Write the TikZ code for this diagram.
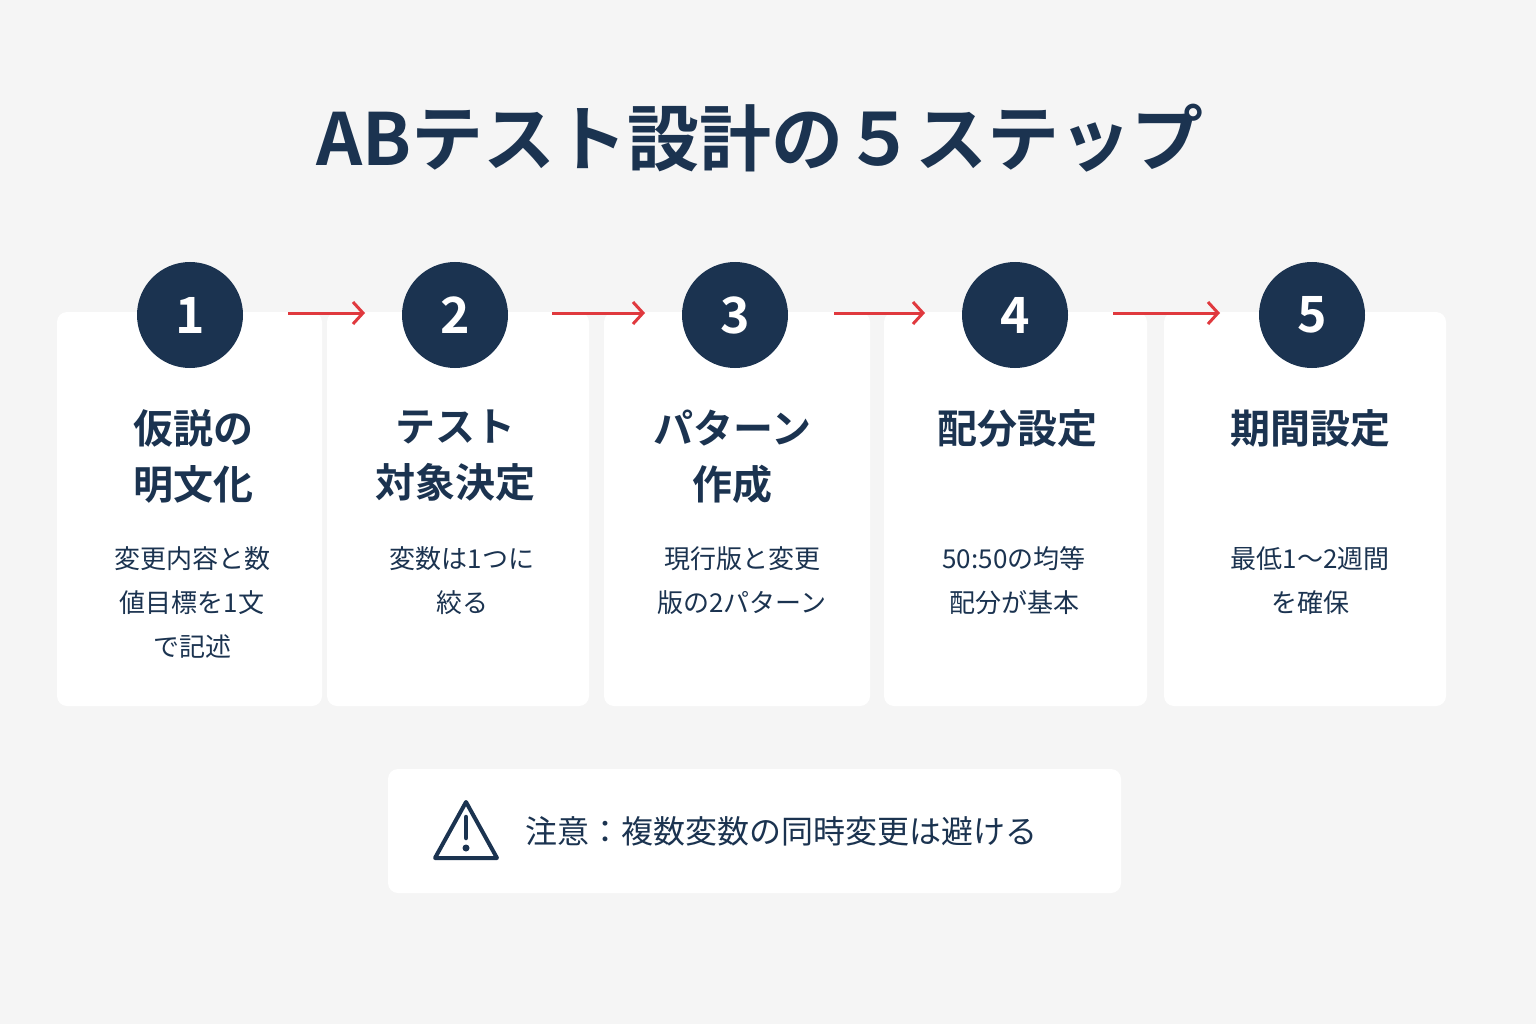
\documentclass[tikz,border=0pt]{standalone}
\usepackage{fontspec}
\setmainfont{Noto Sans CJK JP}
\newfontfamily\jpb{Noto Sans CJK JP Bold}
\usetikzlibrary{arrows.meta}
\definecolor{navy}{HTML}{1B3350}
\definecolor{redc}{HTML}{E0393E}
\definecolor{bg}{HTML}{F5F5F5}
\begin{document}
\begin{tikzpicture}[x=1pt,y=-1pt,
  card/.style={fill=white,rounded corners=10pt,draw=none},
  num/.style={circle,fill=navy,minimum size=106pt,inner sep=0pt,text=white,font=\jpb\fontsize{50}{50}\selectfont},
  ttl/.style={text=navy,font=\jpb\fontsize{40}{56}\selectfont,align=center},
  desc/.style={text=navy,font=\fontsize{26}{44}\selectfont,align=center},
  arr/.style={draw=redc,line width=3pt,-{Straight Barb[length=10pt,width=22pt,line width=3pt]}}]
\fill[bg] (0,0) rectangle (1536,1024);
\useasboundingbox (0,0) rectangle (1536,1024);
\node[text=navy,font=\jpb\fontsize{72}{72}\selectfont] (title) at (760,138) {ABテスト設計の５ステップ};
\fill[card] (57,312) rectangle (322,706);
\fill[card] (327,312) rectangle (589,706);
\fill[card] (604,312) rectangle (870,706);
\fill[card] (884,312) rectangle (1147,706);
\fill[card] (1164,312) rectangle (1446,706);
\node[num] (n1) at (190,315) {1};
\node[num] (n2) at (455,315) {2};
\node[num] (n3) at (735,315) {3};
\node[num] (n4) at (1015,315) {4};
\node[num] (n5) at (1312,315) {5};
\coordinate (a1s) at (288,313); \coordinate (a1e) at (365,313);
\coordinate (a2s) at (552,313); \coordinate (a2e) at (645,313);
\coordinate (a3s) at (834,313); \coordinate (a3e) at (925,313);
\coordinate (a4s) at (1113,313); \coordinate (a4e) at (1220,313);
\draw[arr] (a1s) -- (a1e);
\draw[arr] (a2s) -- (a2e);
\draw[arr] (a3s) -- (a3e);
\draw[arr] (a4s) -- (a4e);
\node[ttl,anchor=north] (t1) at (193,406) {仮説の\\明文化};
\node[ttl,anchor=north] (t2) at (455,406) {テスト\\対象決定};
\node[ttl,anchor=north] (t3) at (732,406) {パターン\\作成};
\node[ttl,anchor=north] (t4) at (1017,406) {配分設定};
\node[ttl,anchor=north] (t5) at (1310,406) {期間設定};
\node[desc,anchor=north] (d1) at (192,543) {変更内容と数\\値目標を1文\\で記述};
\node[desc,anchor=north] (d2) at (462,543) {変数は1つに\\絞る};
\node[desc,anchor=north] (d3) at (742,543) {現行版と変更\\版の2パターン};
\node[desc,anchor=north] (d4) at (1014,543) {50:50の均等\\配分が基本};
\node[desc,anchor=north] (d5) at (1310,543) {最低1〜2週間\\を確保};
\fill[card] (388,769) rectangle (1121,893);
\draw[navy,line width=4pt,line join=round] (466,802) -- (497,858) -- (435,858) -- cycle;
\fill[navy] (466,848) circle (3.5pt);
\draw[navy,line width=4.5pt,line cap=round] (466,817) -- (466,838);
\node[text=navy,font=\fontsize{32}{32}\selectfont,anchor=west] (warn) at (522,831) {注意：複数変数の同時変更は避ける};
\end{tikzpicture}
\end{document}
